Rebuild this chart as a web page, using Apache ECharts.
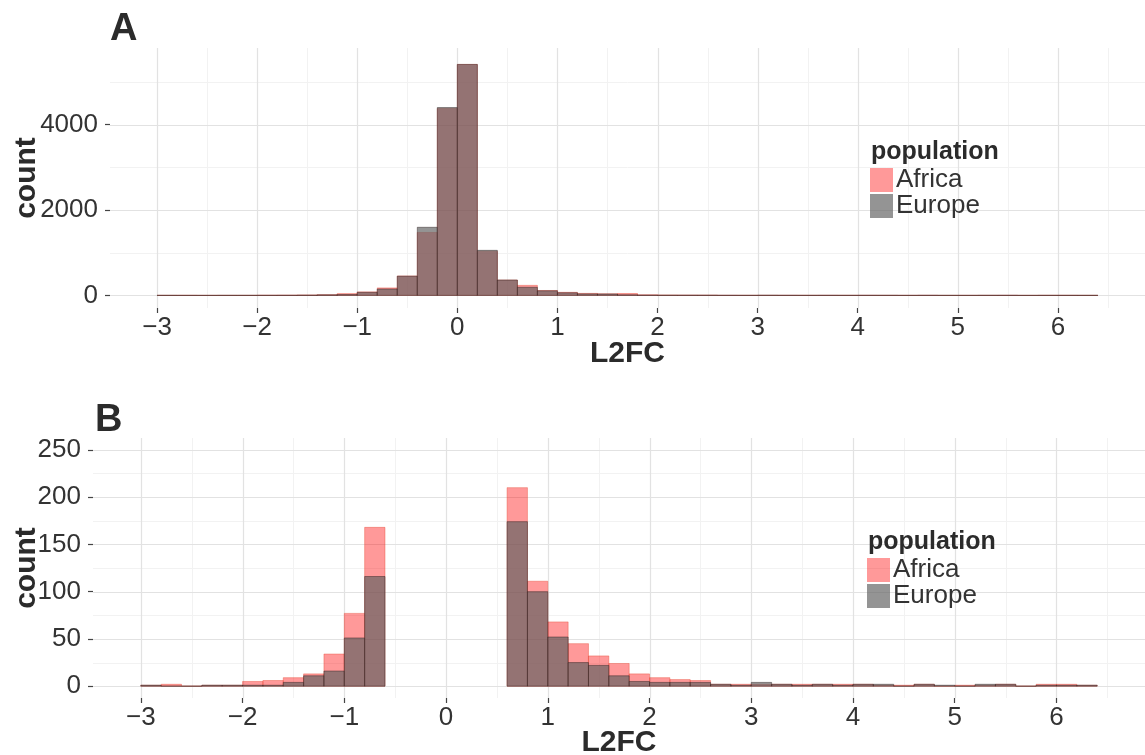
<!DOCTYPE html>
<html><head><meta charset="utf-8">
<script src="https://cdn.jsdelivr.net/npm/echarts@6/dist/echarts.min.js"></script>
<style>html,body{margin:0;padding:0;background:#fff}#chart{width:1145px;height:755px}</style>
</head><body><div id="chart"></div>
<script>
// ---- data ----
const binStart = [-3.0,-2.8,-2.6,-2.4,-2.2,-2.0,-1.8,-1.6,-1.4,-1.2,-1.0,-0.8,-0.6,-0.4,-0.2,0.0,0.2,0.4,0.6,0.8,1.0,1.2,1.4,1.6,1.8,2.0,2.2,2.4,2.6,2.8,3.0,3.2,3.4,3.6,3.8,4.0,4.2,4.4,4.6,4.8,5.0,5.2,5.4,5.6,5.8,6.0,6.2];
const binWidth = 0.2;
const africaA = [1,2,0,1,1,5,6,10,16,42,82,175,455,1475,4375,5410,1030,360,235,115,72,47,38,45,14,9,7,6,2,2,2,2,2,2,2,2,1,1,2,0,1,1,2,0,2,2,1];
const europeA = [1,0,0,1,1,1,2,5,13,20,72,150,450,1595,4400,5410,1055,360,190,108,62,35,33,14,6,4,4,4,2,1,4,2,1,2,1,2,2,0,2,1,0,2,2,0,1,1,1];
const africaB = [1,2,0,1,1,5,6,9,13,34,77,168,null,null,null,null,null,null,210,111,68,45,32,24,13,9,7,6,2,2,2,2,2,2,2,2,1,1,2,0,1,1,2,0,2,2,1];
const europeB = [1,0,0,1,1,1,1,4,11,16,51,116,null,null,null,null,null,null,174,100,52,25,22,11,5,4,4,4,2,1,4,2,1,2,1,2,2,0,2,1,0,2,2,0,1,1,1];
const xTicks = [-3,-2,-1,0,1,2,3,4,5,6];
const xMinor = [-2.5,-1.5,-0.5,0.5,1.5,2.5,3.5,4.5,5.5,6.5];
const yTicksA = [0,2000,4000];
const yMinorA = [1000,3000,5000];
const yTicksB = [0,50,100,150,200,250];
const yMinorB = [25,75,125,175,225];
const xRange = [-3.47, 6.87];
const yRangeA = [-295, 5795];
const yRangeB = [-12.5, 262.5];
const seriesNames = ['Africa','Europe'];

// ---- style ----
const FONT = 'Liberation Sans, Arial, Helvetica, sans-serif';
const AFR_FILL = 'rgba(255,0,0,0.4)';
const AFR_STROKE = 'rgba(230,70,50,0.4)';
const EUR_FILL = 'rgba(97,97,97,0.68)';
const EUR_STROKE = 'rgba(45,30,30,0.45)';
const MAJOR = '#e2e2e2', MINOR = '#f2f2f2';

function barSeries(name, counts, idx, fill, stroke, z) {
  const data = [];
  binStart.forEach((s, i) => { if (counts[i] != null) data.push([s, s + binWidth, counts[i]]); });
  return {
    type: 'custom', name, xAxisIndex: idx, yAxisIndex: idx, z, data,
    encode: { x: [0, 1], y: 2 }, itemStyle: { color: fill },
    renderItem(params, api) {
      const p0 = api.coord([api.value(0), api.value(2)]);
      const p1 = api.coord([api.value(1), 0]);
      return { type: 'rect', shape: { x: p0[0], y: p0[1], width: p1[0] - p0[0], height: p1[1] - p0[1] },
        style: { fill, stroke, lineWidth: 1 } };
    }
  };
}
function gridSeries(idx, vals, dir, color, width) {
  return {
    type: 'custom', xAxisIndex: idx, yAxisIndex: idx, z: 0, silent: true,
    data: vals.map(v => dir === 'v' ? [v, 0] : [0, v]), encode: { x: 0, y: 1 },
    renderItem(params, api) {
      const cs = params.coordSys;
      if (dir === 'v') {
        const x = Math.round(api.coord([api.value(0), 0])[0]) + 0.5;
        return { type: 'line', shape: { x1: x, y1: cs.y, x2: x, y2: cs.y + cs.height }, style: { stroke: color, lineWidth: width } };
      }
      const y = Math.round(api.coord([0, api.value(1)])[1]) + 0.5;
      return { type: 'line', shape: { x1: cs.x, y1: y, x2: cs.x + cs.width, y2: y }, style: { stroke: color, lineWidth: width } };
    }
  };
}
const fmtX = v => (v < 0 ? '\u2212' + Math.abs(v) : String(v));
const fmtY = v => String(v);
function xAxisOpt(idx, gap) {
  return { type: 'value', gridIndex: idx, min: xRange[0], max: xRange[1],
    name: 'L2FC', nameLocation: 'middle', nameGap: gap, nameMoveOverlap: false,
    nameTextStyle: { fontFamily: FONT, fontSize: 30, fontWeight: 'bold', color: '#2b2b2b' },
    axisLine: { show: false, onZero: false }, splitLine: { show: false },
    axisTick: { show: true, customValues: xTicks, length: 5, lineStyle: { color: '#444', width: 1.2 } },
    axisLabel: { customValues: xTicks, formatter: fmtX, fontFamily: FONT, fontSize: 26, color: '#333', margin: 7 } };
}
function yAxisOpt(idx, range, ticks, gap) {
  return { type: 'value', gridIndex: idx, min: range[0], max: range[1],
    name: 'count', nameLocation: 'middle', nameRotate: 90, nameGap: gap, nameMoveOverlap: false,
    nameTextStyle: { fontFamily: FONT, fontSize: 30, fontWeight: 'bold', color: '#2b2b2b' },
    axisLine: { show: false, onZero: false }, splitLine: { show: false },
    axisTick: { show: true, customValues: ticks, length: 5, lineStyle: { color: '#444', width: 1.2 } },
    axisLabel: { customValues: ticks, formatter: fmtY, fontFamily: FONT, fontSize: 26, color: '#333', margin: 12 } };
}
function legendOpt(left, top) {
  return { data: seriesNames, orient: 'vertical', left, top, padding: 0, itemWidth: 23, itemHeight: 24, itemGap: 0,
    icon: 'rect', selectedMode: false,
    textStyle: { fontFamily: FONT, fontSize: 26, color: '#333', lineHeight: 24, padding: [0, 0, 0, -2] } };
}
function titleOpt(text, left, top, size) {
  return { text, left, top, padding: 0, textStyle: { fontFamily: FONT, fontSize: size, fontWeight: 'bold', color: '#2b2b2b' } };
}

const chart = echarts.init(document.getElementById('chart'), null, { renderer: 'canvas' });
chart.setOption({
  animation: false,
  backgroundColor: '#fff',
  title: [titleOpt('A', 110, 11, 38), titleOpt('B', 95, 402, 38),
          titleOpt('population', 871, 140, 25), titleOpt('population', 868, 530, 25)],
  legend: [legendOpt(870, 167), legendOpt(867, 557)],
  grid: [{ left: 110, top: 48, width: 1035, height: 260, containLabel: false, outerBoundsMode: 'none' },
         { left: 93, top: 438, width: 1052, height: 260, containLabel: false, outerBoundsMode: 'none' }],
  xAxis: [xAxisOpt(0, 31), xAxisOpt(1, 30)],
  yAxis: [yAxisOpt(0, yRangeA, yTicksA, 68), yAxisOpt(1, yRangeB, yTicksB, 51)],
  series: [
    gridSeries(0, xMinor, 'v', MINOR, 1), gridSeries(0, yMinorA, 'h', MINOR, 1),
    gridSeries(0, xTicks, 'v', MAJOR, 1.2), gridSeries(0, yTicksA, 'h', MAJOR, 1.2),
    gridSeries(1, xMinor, 'v', MINOR, 1), gridSeries(1, yMinorB, 'h', MINOR, 1),
    gridSeries(1, xTicks, 'v', MAJOR, 1.2), gridSeries(1, yTicksB, 'h', MAJOR, 1.2),
    barSeries('Africa', africaA, 0, AFR_FILL, AFR_STROKE, 2),
    barSeries('Europe', europeA, 0, EUR_FILL, EUR_STROKE, 3),
    barSeries('Africa', africaB, 1, AFR_FILL, AFR_STROKE, 2),
    barSeries('Europe', europeB, 1, EUR_FILL, EUR_STROKE, 3)
  ]
});
</script></body></html>
